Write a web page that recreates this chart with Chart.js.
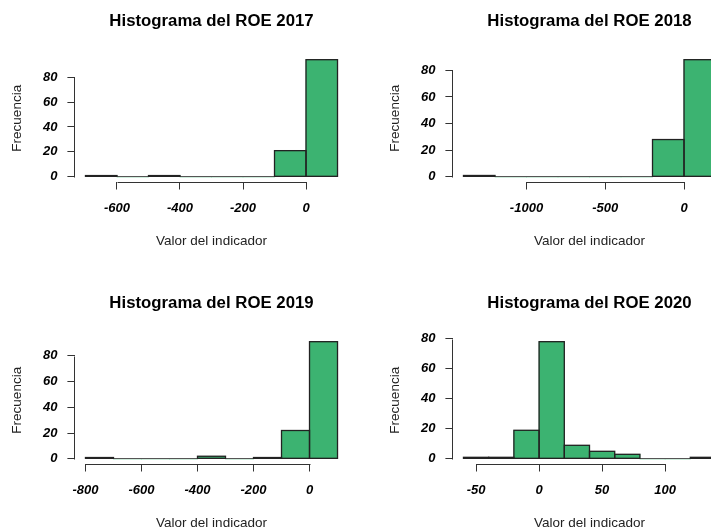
<!DOCTYPE html>
<html>
<head>
<meta charset="utf-8">
<script src="https://cdn.jsdelivr.net/npm/chart.js@4.4.0/dist/chart.umd.min.js"></script>
<style>
  html, body { margin: 0; padding: 0; background: #fff; }
  body { width: 711px; height: 532px; overflow: hidden; position: relative; }
  canvas { position: absolute; }
</style>
</head>
<body>
<canvas id="roe2017" width="378" height="282" style="left:0;top:0"></canvas>
<canvas id="roe2018" width="378" height="282" style="left:378px;top:0"></canvas>
<canvas id="roe2019" width="378" height="282" style="left:0;top:282px"></canvas>
<canvas id="roe2020" width="378" height="282" style="left:378px;top:282px"></canvas>
<script>
// bin edges, counts and x tick labels
const binEdges2017 = [-700, -600, -500, -400, -300, -200, -100, 0, 100];
const counts2017 = [1, 0, 1, 0, 0, 0, 21, 94];
const xTicks2017 = [-600, -400, -200, 0];

const binEdges2018 = [-1400, -1200, -1000, -800, -600, -400, -200, 0, 200];
const counts2018 = [1, 0, 0, 0, 0, 0, 28, 88];
const xTicks2018 = [-1000, -500, 0];

const binEdges2019 = [-800, -700, -600, -500, -400, -300, -200, -100, 0, 100];
const counts2019 = [1, 0, 0, 0, 2, 0, 1, 22, 91];
const xTicks2019 = [-800, -600, -400, -200, 0];

const binEdges2020 = [-60, -40, -20, 0, 20, 40, 60, 80, 100, 120, 140];
const counts2020 = [1, 1, 19, 78, 9, 5, 3, 0, 0, 1];
const xTicks2020 = [-50, 0, 50, 100];

const yTicks = [0, 20, 40, 60, 80];

const FONT = "'Liberation Sans', Arial, sans-serif";
Chart.defaults.font.family = FONT;

// R style: bar outlines, axes only between first and last tick, main title over the plot region
const panelPlugin = {
    id: 'panel',
    afterDatasetsDraw(chart, args, opts) {
        const x = chart.scales.x, y = chart.scales.y, ctx = chart.ctx;
        const meta = chart.getDatasetMeta(0);
        const vals = chart.data.datasets[0].data;
        const y0 = Math.round(y.getPixelForValue(0)) - 0.5;
        ctx.save();
        // empty bins show up as a flat line along zero
        ctx.strokeStyle = '#555';
        ctx.lineWidth = 1;
        ctx.beginPath();
        ctx.moveTo(x.getPixelForValue(opts.edges[0]), y0);
        ctx.lineTo(x.getPixelForValue(opts.edges[opts.edges.length - 1]), y0);
        ctx.stroke();
        ctx.strokeStyle = '#222';
        ctx.lineWidth = 1.3;
        meta.data.forEach((el, i) => {
            if (!vals[i].y) return;
            const p = el.getProps(['x', 'y', 'base', 'width'], true);
            ctx.strokeRect(p.x - p.width / 2, p.y, p.width, p.base - p.y);
        });
        ctx.restore();
    },
    afterDraw(chart, args, opts) {
        const x = chart.scales.x, y = chart.scales.y, ctx = chart.ctx, a = chart.chartArea;
        const xt = x.ticks, yt = y.ticks;
        const bx = Math.round(a.bottom) + 0.5, lx = Math.round(a.left) - 0.5;
        ctx.save();
        ctx.strokeStyle = '#333';
        ctx.lineWidth = 1;
        ctx.beginPath();
        ctx.moveTo(Math.round(x.getPixelForValue(xt[0].value)) + 0.5, bx);
        ctx.lineTo(Math.round(x.getPixelForValue(xt[xt.length - 1].value)) + 0.5, bx);
        ctx.moveTo(lx, Math.round(y.getPixelForValue(yt[0].value)) + 0.5);
        ctx.lineTo(lx, Math.round(y.getPixelForValue(yt[yt.length - 1].value)) + 0.5);
        ctx.stroke();
        ctx.fillStyle = '#000';
        ctx.font = 'bold 16.8px ' + FONT;
        ctx.textAlign = 'center';
        ctx.textBaseline = 'middle';
        ctx.fillText(opts.title, (a.left + a.right) / 2, 21.5);
        ctx.restore();
    }
};

function makeHist(id, title, edges, counts, xTicks) {
    const points = counts.map((c, i) => ({ x: (edges[i] + edges[i + 1]) / 2, y: c }));
    const span = edges[edges.length - 1] - edges[0];
    const top = Math.max(...counts);
    const tickFont = { size: 13, weight: 'bold', style: 'italic' };
    const labFont = { size: 13.5 };

    new Chart(document.getElementById(id), {
        type: 'bar',
        data: {
            datasets: [{
                data: points,
                backgroundColor: '#3CB371',
                borderWidth: 0,
                barPercentage: 1,
                categoryPercentage: 1,
            }],
        },
        options: {
            responsive: false,
            animation: false,
            layout: { padding: { top: 55, right: 30.4, bottom: 33, left: 0 } },
            plugins: {
                legend: { display: false },
                tooltip: { enabled: false },
                panel: { title: title, edges: edges },
            },
            scales: {
                x: {
                    type: 'linear',
                    bounds: 'data',
                    offset: false,
                    min: edges[0] - span * 0.04,
                    max: edges[edges.length - 1] + span * 0.04,
                    afterBuildTicks: s => { s.ticks = xTicks.map(v => ({ value: v })); },
                    afterFit: s => { s.height = 67.5; },
                    grid: { offset: false, drawOnChartArea: false, drawTicks: true, tickLength: 8, color: '#333' },
                    border: { display: false },
                    ticks: { font: tickFont, color: '#000', padding: 11.5, maxRotation: 0, autoSkip: false, callback: v => String(v) },
                    title: { display: true, text: 'Valor del indicador', font: labFont, color: '#222', padding: 0 },
                },
                y: {
                    bounds: 'data',
                    min: -top * 0.04,
                    max: top * 1.04,
                    afterBuildTicks: s => { s.ticks = yTicks.map(v => ({ value: v })); },
                    afterFit: s => { s.width = 75.4; },
                    grid: { drawOnChartArea: false, drawTicks: true, tickLength: 8, color: '#333' },
                    border: { display: false },
                    ticks: { font: tickFont, color: '#000', padding: 10, callback: v => String(v) },
                    title: { display: true, text: 'Frecuencia', font: labFont, color: '#222', padding: { top: 9, bottom: 0 } },
                },
            },
        },
        plugins: [panelPlugin],
    });
}

makeHist('roe2017', 'Histograma del ROE 2017', binEdges2017, counts2017, xTicks2017);
makeHist('roe2018', 'Histograma del ROE 2018', binEdges2018, counts2018, xTicks2018);
makeHist('roe2019', 'Histograma del ROE 2019', binEdges2019, counts2019, xTicks2019);
makeHist('roe2020', 'Histograma del ROE 2020', binEdges2020, counts2020, xTicks2020);
</script>
</body>
</html>
